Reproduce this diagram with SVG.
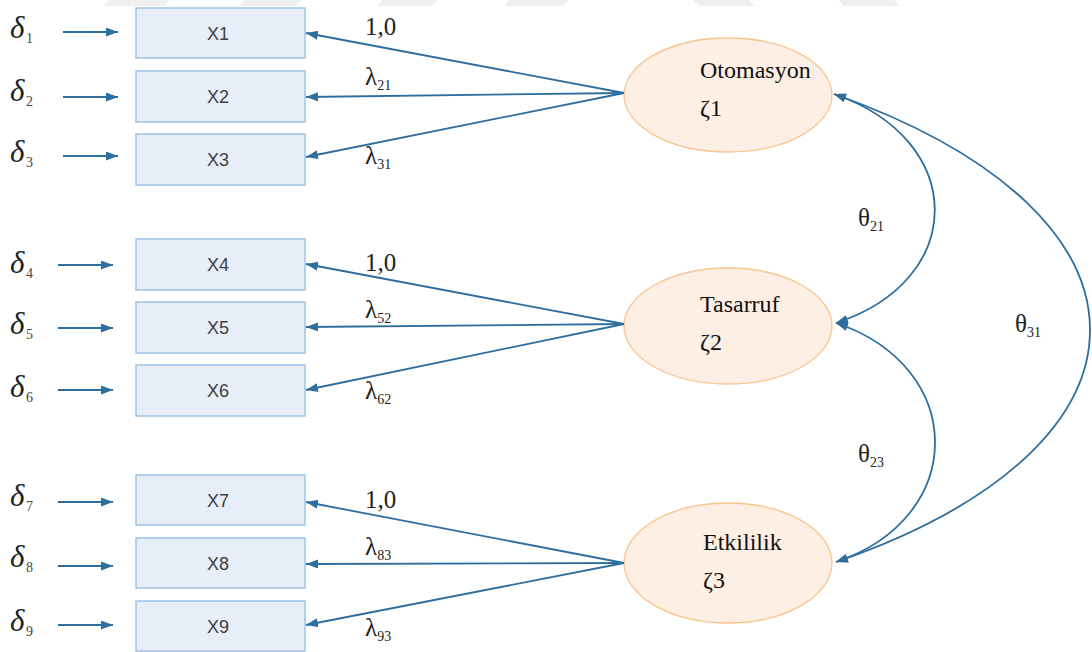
<svg xmlns="http://www.w3.org/2000/svg" width="1092" height="652" viewBox="0 0 1092 652">
  <style>
    .box { fill: #e7eef8; stroke: #9fc5e8; stroke-width: 1.5; }
    .lat { fill: #fdefe3; stroke: #f9c48e; stroke-width: 1.3; }
    .xl { font-family: "Liberation Sans", Arial, sans-serif; font-size: 18px; fill: #404040; text-anchor: middle; }
    .ll { font-family: "Liberation Serif", "Times New Roman", serif; font-size: 24px; fill: #111; }
    .gl { font-family: "Liberation Serif", "Times New Roman", serif; font-size: 25px; fill: #222; }
    .sub { font-size: 14px; }
    .dl { font-family: "Liberation Serif", "Times New Roman", serif; font-style: italic; font-size: 31px; fill: #222; }
    .ds { font-family: "Liberation Serif", "Times New Roman", serif; font-size: 14px; fill: #444; }
    .ln { fill: none; stroke: #2e6e9e; stroke-width: 1.8; }
    .wm { fill: #efefef; }
  </style>
  <defs>
    <marker id="arr" markerUnits="userSpaceOnUse" markerWidth="13" markerHeight="10" refX="12" refY="4.5" orient="auto-start-reverse">
      <path d="M0,0 L12,4.5 L0,9 z" fill="#2e6e9e"/>
    </marker>
  </defs>

  <!-- faint page band at the top edge -->
  <g id="band">
    <polygon class="wm" points="108,0 170,0 164,6 104,6"/>
    <polygon class="wm" points="244,0 302,0 296,6 240,6"/>
    <polygon class="wm" points="382,0 438,0 432,6 378,6"/>
    <polygon class="wm" points="509,0 569,0 563,6 505,6"/>
    <polygon class="wm" points="693,0 749,0 755,6 699,6"/>
    <polygon class="wm" points="838,0 894,0 900,6 844,6"/>
  </g>

  <!-- error terms -->
  <g id="errors">
    <text class="dl" x="10" y="38">δ</text><text class="ds" x="26" y="43">1</text>
    <text class="dl" x="10" y="101">δ</text><text class="ds" x="26" y="106">2</text>
    <text class="dl" x="10" y="162">δ</text><text class="ds" x="26" y="167">3</text>
    <text class="dl" x="10" y="273">δ</text><text class="ds" x="26" y="278">4</text>
    <text class="dl" x="10" y="334">δ</text><text class="ds" x="26" y="339">5</text>
    <text class="dl" x="10" y="397">δ</text><text class="ds" x="26" y="402">6</text>
    <text class="dl" x="10" y="506">δ</text><text class="ds" x="26" y="511">7</text>
    <text class="dl" x="10" y="567">δ</text><text class="ds" x="26" y="572">8</text>
    <text class="dl" x="10" y="631">δ</text><text class="ds" x="26" y="636">9</text>
  </g>

  <!-- observed indicators -->
  <g id="X1"><rect class="box" x="136" y="8" width="169" height="50"/><text class="xl" x="218" y="40">X1</text></g>
  <g id="X2"><rect class="box" x="136" y="71" width="169" height="51"/><text class="xl" x="218" y="103">X2</text></g>
  <g id="X3"><rect class="box" x="136" y="134" width="169" height="51"/><text class="xl" x="218" y="166">X3</text></g>
  <g id="X4"><rect class="box" x="136" y="239" width="169" height="51"/><text class="xl" x="218" y="271">X4</text></g>
  <g id="X5"><rect class="box" x="136" y="302" width="169" height="51"/><text class="xl" x="218" y="334">X5</text></g>
  <g id="X6"><rect class="box" x="136" y="365" width="169" height="51"/><text class="xl" x="218" y="397">X6</text></g>
  <g id="X7"><rect class="box" x="136" y="475" width="169" height="50"/><text class="xl" x="218" y="507">X7</text></g>
  <g id="X8"><rect class="box" x="136" y="538" width="169" height="50"/><text class="xl" x="218" y="570">X8</text></g>
  <g id="X9"><rect class="box" x="136" y="601" width="169" height="50"/><text class="xl" x="218" y="633">X9</text></g>

  <!-- latent factors -->
  <g id="Otomasyon">
    <ellipse class="lat" cx="728" cy="95" rx="104" ry="57"/>
    <text class="ll" x="700" y="78">Otomasyon</text>
    <text class="ll" x="700" y="116">ζ1</text>
  </g>
  <g id="Tasarruf">
    <ellipse class="lat" cx="728" cy="326" rx="104" ry="58"/>
    <text class="ll" x="700" y="312">Tasarruf</text>
    <text class="ll" x="700" y="350">ζ2</text>
  </g>
  <g id="Etkililik">
    <ellipse class="lat" cx="728" cy="563" rx="104" ry="60"/>
    <text class="ll" x="703" y="550">Etkililik</text>
    <text class="ll" x="703" y="588">ζ3</text>
  </g>

  <!-- connectors -->
  <g id="connectors">
    <line class="ln" x1="63" y1="32" x2="118" y2="32" marker-end="url(#arr)"/>
    <line class="ln" x1="63" y1="97" x2="118" y2="97" marker-end="url(#arr)"/>
    <line class="ln" x1="63" y1="156" x2="118" y2="156" marker-end="url(#arr)"/>
    <line class="ln" x1="58" y1="265" x2="113" y2="265" marker-end="url(#arr)"/>
    <line class="ln" x1="58" y1="328" x2="113" y2="328" marker-end="url(#arr)"/>
    <line class="ln" x1="58" y1="390" x2="113" y2="390" marker-end="url(#arr)"/>
    <line class="ln" x1="58" y1="502" x2="113" y2="502" marker-end="url(#arr)"/>
    <line class="ln" x1="58" y1="566" x2="113" y2="566" marker-end="url(#arr)"/>
    <line class="ln" x1="58" y1="625" x2="113" y2="625" marker-end="url(#arr)"/>

    <line class="ln" x1="624" y1="93" x2="306" y2="33" marker-end="url(#arr)"/>
    <line class="ln" x1="624" y1="93" x2="306" y2="97" marker-end="url(#arr)"/>
    <line class="ln" x1="624" y1="93" x2="306" y2="157" marker-end="url(#arr)"/>
    <line class="ln" x1="624" y1="324" x2="306" y2="264" marker-end="url(#arr)"/>
    <line class="ln" x1="624" y1="324" x2="306" y2="327" marker-end="url(#arr)"/>
    <line class="ln" x1="624" y1="324" x2="306" y2="390" marker-end="url(#arr)"/>
    <line class="ln" x1="624" y1="563" x2="306" y2="502" marker-end="url(#arr)"/>
    <line class="ln" x1="624" y1="563" x2="306" y2="564" marker-end="url(#arr)"/>
    <line class="ln" x1="624" y1="563" x2="306" y2="625" marker-end="url(#arr)"/>

    <path class="ln" d="M834,94 C968,140 968,280 836,323" marker-start="url(#arr)" marker-end="url(#arr)"/>
    <path class="ln" d="M836,323 C968,367 968,518 836,562" marker-start="url(#arr)" marker-end="url(#arr)"/>
    <path class="ln" d="M834,94 C1175,215 1175,445 836,562" marker-start="url(#arr)" marker-end="url(#arr)"/>
  </g>

  <!-- path coefficients -->
  <g id="labels">
    <text class="gl" x="365" y="35">1,0</text>
    <text class="gl" x="365" y="85">λ<tspan class="sub" dy="5">21</tspan></text>
    <text class="gl" x="365" y="164">λ<tspan class="sub" dy="5">31</tspan></text>
    <text class="gl" x="365" y="271">1,0</text>
    <text class="gl" x="365" y="318">λ<tspan class="sub" dy="5">52</tspan></text>
    <text class="gl" x="365" y="399">λ<tspan class="sub" dy="5">62</tspan></text>
    <text class="gl" x="365" y="508">1,0</text>
    <text class="gl" x="365" y="555">λ<tspan class="sub" dy="5">83</tspan></text>
    <text class="gl" x="365" y="636">λ<tspan class="sub" dy="5">93</tspan></text>
    <text class="gl" x="858" y="226">θ<tspan class="sub" dy="5">21</tspan></text>
    <text class="gl" x="858" y="462">θ<tspan class="sub" dy="5">23</tspan></text>
    <text class="gl" x="1015" y="332">θ<tspan class="sub" dy="5">31</tspan></text>
  </g>
</svg>
